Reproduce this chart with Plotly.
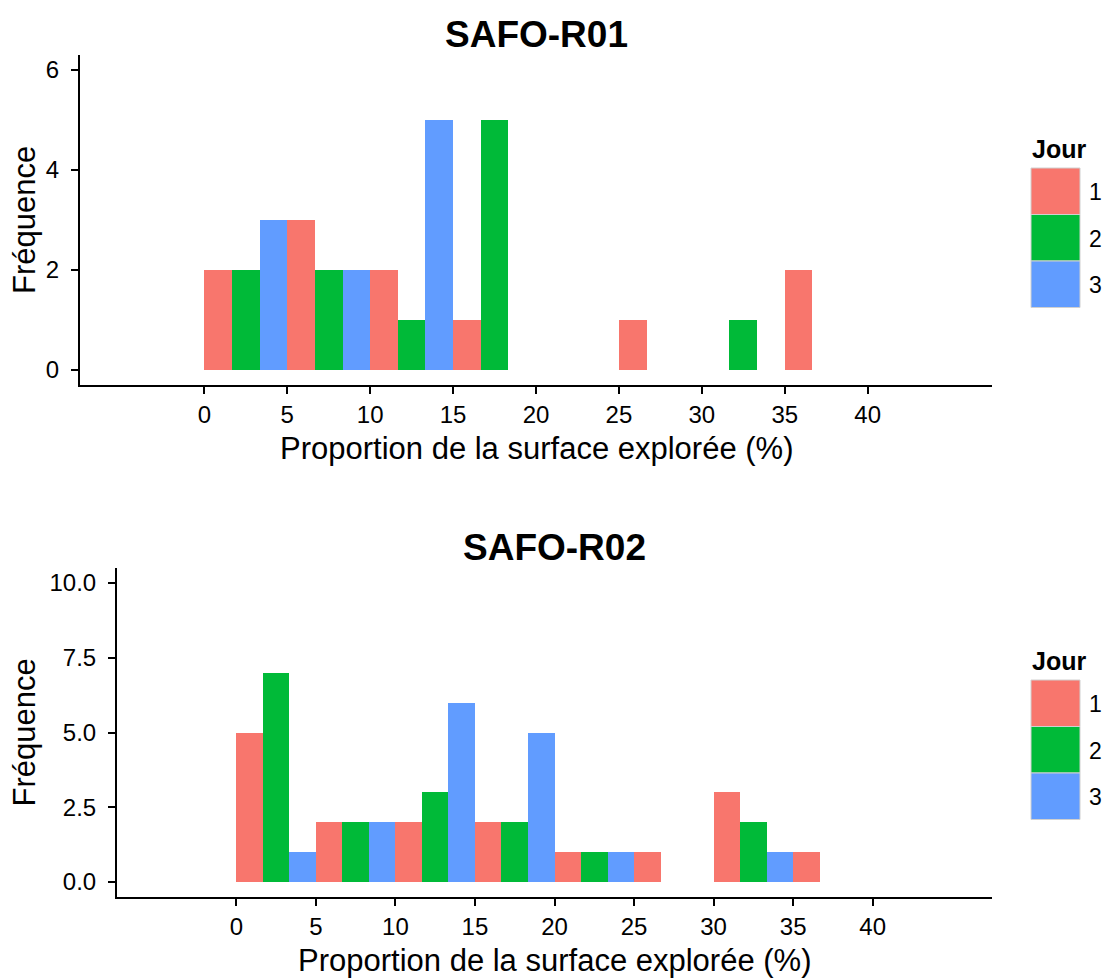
import plotly.graph_objects as go

# Histogram counts per 5 % bin, one series per day
bin_starts = [0, 5, 10, 15, 20, 25, 30, 35]
days = ["1", "2", "3"]
colors = ["#F8766D", "#00BA38", "#619CFF"]

r01_day1 = [2, 3, 2, 1, 0, 1, 0, 2]
r01_day2 = [2, 2, 1, 5, 0, 0, 1, 0]
r01_day3 = [3, 2, 5, 0, 0, 0, 0, 0]

r02_day1 = [5, 2, 2, 2, 1, 1, 3, 1]
r02_day2 = [7, 2, 3, 2, 1, 0, 2, 0]
r02_day3 = [1, 2, 6, 5, 1, 0, 1, 0]

x_ticks = [0, 5, 10, 15, 20, 25, 30, 35, 40]
r01_yticks = [0, 2, 4, 6]
r02_yticks = [0, 2.5, 5.0, 7.5, 10.0]
r02_yticktext = ["0.0", "2.5", "5.0", "7.5", "10.0"]

panels = [
    dict(title="SAFO-R01", series=[r01_day1, r01_day2, r01_day3],
         yticks=r01_yticks, yticktext=[str(v) for v in r01_yticks], yrange=[-0.3, 6.3],
         xtitle_y=449, legend_top=168),
    dict(title="SAFO-R02", series=[r02_day1, r02_day2, r02_day3],
         yticks=r02_yticks, yticktext=r02_yticktext, yrange=[-0.5, 10.5],
         xtitle_y=960, legend_top=680),
]

W, H = 1105, 979
FONT = "Liberation Sans, Arial, sans-serif"

# pixel boxes of the two panels: (left, right, top, bottom)
boxes = [(80, 992, 55, 385), (117, 992, 568, 897)]


def px_x(v):
    return v / W


def px_y(v):
    return 1 - v / H


bin_centers = [b + 2.5 for b in bin_starts]

fig = go.Figure()
shapes = []
annotations = []

for i, (panel, box) in enumerate(zip(panels, boxes)):
    left, right, top, bottom = box
    xa = "x" if i == 0 else f"x{i + 1}"
    ya = "y" if i == 0 else f"y{i + 1}"
    for day, col, vals in zip(days, colors, panel["series"]):
        fig.add_trace(go.Bar(
            x=bin_centers, y=vals, name=day, marker=dict(color=col, line=dict(width=0)),
            xaxis=xa, yaxis=ya, showlegend=False,
        ))

    axis_common = dict(
        showline=True, linecolor="black", linewidth=2, ticks="outside",
        ticklen=7, tickwidth=2, tickcolor="black", showgrid=False, zeroline=False,
        tickfont=dict(family=FONT, size=24, color="black"),
    )
    xkey = "xaxis" if i == 0 else f"xaxis{i + 1}"
    ykey = "yaxis" if i == 0 else f"yaxis{i + 1}"
    fig.update_layout(**{
        xkey: dict(axis_common, domain=[px_x(left), px_x(right)], range=[-7.5, 47.5],
                   tickmode="array", tickvals=x_ticks, anchor=ya, ticklabelstandoff=0),
        ykey: dict(axis_common, domain=[px_y(bottom), px_y(top)], range=panel["yrange"],
                   tickmode="array", tickvals=panel["yticks"], ticktext=panel["yticktext"],
                   anchor=xa, ticklabelstandoff=7),
    })

    cx = (left + right) / 2
    cy = (top + bottom) / 2
    # panel title
    annotations.append(dict(
        text="<b>" + panel["title"] + "</b>", x=px_x(cx), y=px_y(top - 21), xref="paper", yref="paper",
        xanchor="center", yanchor="middle", showarrow=False,
        font=dict(family=FONT, size=37, color="black")))
    # axis titles
    annotations.append(dict(
        text="Proportion de la surface explorée (%)", x=px_x(cx), y=px_y(panel["xtitle_y"]),
        xref="paper", yref="paper", xanchor="center", yanchor="middle", showarrow=False,
        font=dict(family=FONT, size=31, color="black")))
    annotations.append(dict(
        text="Fréquence", x=px_x(24), y=px_y(cy), textangle=-90,
        xref="paper", yref="paper", xanchor="center", yanchor="middle", showarrow=False,
        font=dict(family=FONT, size=31, color="black")))

    # legend: title and one key per day
    key_top = panel["legend_top"]
    key_h = 46.5
    annotations.append(dict(
        text="<b>Jour</b>", x=px_x(1030), y=px_y(key_top - 19), xref="paper", yref="paper",
        xanchor="left", yanchor="middle", showarrow=False,
        font=dict(family=FONT, size=25, color="black")))
    for k, (day, col) in enumerate(zip(days, colors)):
        y0 = key_top + k * key_h
        shapes.append(dict(
            type="rect", xref="paper", yref="paper",
            x0=px_x(1031), x1=px_x(1080), y0=px_y(y0 + key_h), y1=px_y(y0),
            fillcolor=col, line=dict(color="#d0d0d0", width=1)))
        annotations.append(dict(
            text=day, x=px_x(1087), y=px_y(y0 + key_h / 2 + 1), xref="paper", yref="paper",
            xanchor="left", yanchor="middle", showarrow=False,
            font=dict(family=FONT, size=23, color="black")))

fig.update_layout(
    width=W, height=H,
    margin=dict(l=0, r=0, t=0, b=0),
    paper_bgcolor="white", plot_bgcolor="white",
    barmode="group", bargap=0, bargroupgap=0,
    showlegend=False,
    shapes=shapes, annotations=annotations,
)

fig.write_html("out.html")
